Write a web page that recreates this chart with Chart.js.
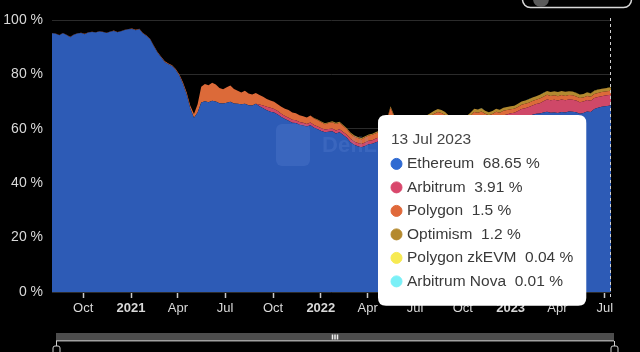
<!DOCTYPE html>
<html><head><meta charset="utf-8">
<script src="https://cdn.jsdelivr.net/npm/chart.js@4.4.0/dist/chart.umd.min.js"></script>
<style>html,body{margin:0;padding:0;background:#000;}#wrap{width:640px;height:352px;position:relative;}</style>
</head><body><div id="wrap"><canvas id="c" width="640" height="352"></canvas></div>
<script>
const dates = [
'2020-08-02','2020-08-09','2020-08-16','2020-08-23','2020-08-30','2020-09-06','2020-09-13','2020-09-20','2020-09-27','2020-10-04','2020-10-11','2020-10-18','2020-10-25','2020-11-01','2020-11-08','2020-11-15','2020-11-22','2020-11-29','2020-12-06','2020-12-13','2020-12-20','2020-12-27',
'2021-01-03','2021-01-10','2021-01-17','2021-01-24','2021-01-31','2021-02-07','2021-02-14','2021-02-21','2021-02-28','2021-03-07','2021-03-14','2021-03-21','2021-03-28','2021-04-04','2021-04-11','2021-04-18','2021-04-25','2021-05-02','2021-05-09','2021-05-16','2021-05-23','2021-05-30','2021-06-06','2021-06-13','2021-06-20','2021-06-27','2021-07-04','2021-07-11','2021-07-18','2021-07-25','2021-08-01','2021-08-08','2021-08-15','2021-08-22','2021-08-29','2021-09-05','2021-09-12','2021-09-19','2021-09-26','2021-10-03','2021-10-10','2021-10-17','2021-10-24','2021-10-31','2021-11-07','2021-11-14','2021-11-21','2021-11-28','2021-12-05','2021-12-12','2021-12-19','2021-12-26',
'2022-01-02','2022-01-09','2022-01-16','2022-01-23','2022-01-30','2022-02-06','2022-02-13','2022-02-20','2022-02-27','2022-03-06','2022-03-13','2022-03-20','2022-03-27','2022-04-03','2022-04-10','2022-04-17','2022-04-24','2022-05-01','2022-05-08','2022-05-15','2022-05-22','2022-05-29','2022-06-05','2022-06-12','2022-06-19','2022-06-26','2022-07-03','2022-07-10','2022-07-17','2022-07-24','2022-07-31','2022-08-07','2022-08-14','2022-08-21','2022-08-28','2022-09-04','2022-09-11','2022-09-18','2022-09-25','2022-10-02','2022-10-09','2022-10-16','2022-10-23','2022-10-30','2022-11-06','2022-11-13','2022-11-20','2022-11-27','2022-12-04','2022-12-11','2022-12-18','2022-12-25',
'2023-01-01','2023-01-08','2023-01-15','2023-01-22','2023-01-29','2023-02-05','2023-02-12','2023-02-19','2023-02-26','2023-03-05','2023-03-12','2023-03-19','2023-03-26','2023-04-02','2023-04-09','2023-04-16','2023-04-23','2023-04-30','2023-05-07','2023-05-14','2023-05-21','2023-05-28','2023-06-04','2023-06-11','2023-06-18','2023-06-25','2023-07-02','2023-07-09','2023-07-13'
];

const ethereum = [
95.1,94.9,94.4,95.1,94.5,93.7,94.6,95.0,95.2,94.8,95.4,95.6,95.4,95.8,95.6,95.2,95.7,96.0,95.5,95.9,96.3,96.6,
96.7,96.2,96.6,95.0,94.1, 92.8,90.3,88.0,86.2, 84.5,83.7,83.1,81.6, 79.5,76.4,72.5,67.5, 64.1,66.0,69.7,70.1,69.8, 70.3,70.0,69.4,69.3, 69.6,69.9,69.3,69.2, 69.0,69.2,68.7,68.6,69.2, 68.3,67.6,66.8,66.3, 66.0,65.3,64.3,63.6,63.0, 62.2,62.1,61.5,61.2, 60.8,61.3,60.4,59.8,
59.2,58.7,58.9,59.1,58.3, 58.7,57.7,56.7,55.1, 54.1,53.6,53.2,53.7, 54.3,54.5,55.1,55.5, 56.4,59.1,63.4,60.2,59.3, 58.9,58.5,58.7,59.1, 59.3,59.0,59.5,59.5,60.3, 61.0,61.7,61.4,60.7, 59.5,59.1,59.0,59.2, 58.9,59.3,60.5,61.9,61.6, 62.2,61.2,60.8,61.2, 62.1,61.8,62.5,62.7,
63.1,63.2,63.7,64.4,64.6, 64.8,65.2,65.5,65.6, 66.0,66.3,65.9,66.0, 65.8,66.2,66.0,66.4,66.3, 66.1,65.5,65.8,66.4, 66.2,67.3,67.7,68.1, 68.3,68.5,68.65
];

const arbitrum = [
0,0,0,0,0,0,0,0,0,0,0,0,0,0,0,0,0,0,0,0,0,0,
0,0,0,0,0, 0,0,0,0, 0,0,0,0, 0,0,0,0, 0,0,0,0,0, 0,0,0,0, 0,0,0,0, 0,0,0,0,0, 0.6,1.0,1.3,1.4, 1.3,1.2,1.2,1.1,1.1, 1.1,1.0,1.0,1.0, 1.0,1.0,1.0,1.0,
1.0,1.0,1.0,1.0,1.1, 1.1,1.1,1.1,1.2, 1.2,1.2,1.2,1.3, 1.3,1.3,1.3,1.4, 1.4,1.5,1.7,1.7,1.8, 1.9,1.9,1.9,2.0, 2.0,2.0,2.0,2.1,2.1, 2.2,2.2,2.2,2.2, 2.2,2.2,2.2,2.3, 2.3,2.3,2.3,2.4,2.4, 2.4,2.5,2.5,2.5, 2.5,2.5,2.5,2.6,
2.6,2.7,2.8,2.9,3.0, 3.2,3.4,3.6,3.8, 4.1,4.5,4.6,4.7, 4.6,4.6,4.5,4.4,4.4, 4.3,4.3,4.2,4.2, 4.1,4.0,4.0,3.9, 3.9,3.9,3.91
];

const polygon = [
0.1,0.1,0.1,0.1,0.1,0.1,0.1,0.1,0.1,0.1,0.1,0.1,0.1,0.1,0.1,0.1,0.1,0.1,0.1,0.1,0.1,0.1,
0.2,0.2,0.2,0.2,0.2, 0.2,0.2,0.2,0.3, 0.3,0.3,0.3,0.4, 0.5,0.6,0.8,1.0, 1.3,3.0,5.8,6.4,6.2, 6.6,6.3,5.6,5.2, 5.7,6.0,5.3,4.8, 4.3,4.8,4.3,4.0,4.0, 3.5,3.2,2.9,2.7, 2.6,2.5,2.6,2.7,2.8, 2.7,2.6,2.5,2.4, 2.4,2.6,2.4,2.3,
2.2,2.0,2.2,2.3,2.4, 2.4,2.2,2.0,1.9, 1.9,1.8,1.8,1.9, 1.9,2.0,2.0,2.0, 2.2,2.4,2.6,2.5,2.4, 2.4,2.3,2.3,2.3, 2.3,2.2,2.3,2.3,2.3, 2.3,2.3,2.2,2.2, 2.1,2.1,2.0,2.0, 2.0,2.0,2.0,1.9,1.9, 1.8,1.8,1.7,1.7, 1.7,1.6,1.6,1.6,
1.5,1.5,1.5,1.5,1.6, 1.6,1.6,1.6,1.7, 1.7,1.7,1.6,1.6, 1.6,1.6,1.6,1.6,1.6, 1.5,1.5,1.5,1.5, 1.5,1.5,1.5,1.5, 1.5,1.5,1.5
];

const optimism = [
0,0,0,0,0,0,0,0,0,0,0,0,0,0,0,0,0,0,0,0,0,0,
0,0,0,0,0, 0,0,0,0, 0,0,0,0, 0,0,0,0, 0,0,0,0,0, 0,0,0,0, 0,0,0,0, 0,0,0,0,0, 0,0,0,0, 0,0,0,0,0, 0,0,0,0, 0,0,0.2,0.3,
0.3,0.3,0.3,0.4,0.4, 0.4,0.4,0.4,0.4, 0.4,0.4,0.4,0.4, 0.4,0.4,0.4,0.4, 0.5,0.5,0.6,0.6,0.7, 0.8,0.8,0.9,0.9, 1.0,1.0,1.0,1.1,1.1, 1.1,1.1,1.1,1.1, 1.1,1.1,1.1,1.1, 1.2,1.2,1.2,1.2,1.2, 1.2,1.1,1.1,1.1, 1.1,1.1,1.1,1.1,
1.1,1.1,1.2,1.2,1.2, 1.3,1.3,1.3,1.4, 1.4,1.4,1.4,1.5, 1.5,1.5,1.5,1.4,1.4, 1.3,1.3,1.3,1.3, 1.2,1.2,1.2,1.2, 1.2,1.2,1.2
];

const polygonZkEVM = [
0,0,0,0,0,0,0,0,0,0,0,0,0,0,0,0,0,0,0,0,0,0,
0,0,0,0,0, 0,0,0,0, 0,0,0,0, 0,0,0,0, 0,0,0,0,0, 0,0,0,0, 0,0,0,0, 0,0,0,0,0, 0,0,0,0, 0,0,0,0,0, 0,0,0,0, 0,0,0,0,
0,0,0,0,0, 0,0,0,0, 0,0,0,0, 0,0,0,0, 0,0,0,0,0, 0,0,0,0, 0,0,0,0,0, 0,0,0,0, 0,0,0,0, 0,0,0,0,0, 0,0,0,0, 0,0,0,0,
0,0,0,0,0, 0,0,0,0, 0,0,0,0.01, 0.01,0.02,0.02,0.02,0.03, 0.03,0.03,0.03,0.03, 0.04,0.04,0.04,0.04, 0.04,0.04,0.04
];

const arbitrumNova = [
0,0,0,0,0,0,0,0,0,0,0,0,0,0,0,0,0,0,0,0,0,0,
0,0,0,0,0, 0,0,0,0, 0,0,0,0, 0,0,0,0, 0,0,0,0,0, 0,0,0,0, 0,0,0,0, 0,0,0,0,0, 0,0,0,0, 0,0,0,0,0, 0,0,0,0, 0,0,0,0,
0,0,0,0,0, 0,0,0,0, 0,0,0,0, 0,0,0,0, 0,0,0,0,0, 0,0,0,0, 0,0,0,0,0, 0.01,0.01,0.01,0.01, 0.01,0.01,0.01,0.01, 0.01,0.01,0.01,0.01,0.01, 0.01,0.01,0.01,0.01, 0.01,0.01,0.01,0.01,
0.01,0.01,0.01,0.01,0.01, 0.01,0.01,0.01,0.01, 0.01,0.01,0.01,0.01, 0.01,0.01,0.01,0.01,0.01, 0.01,0.01,0.01,0.01, 0.01,0.01,0.01,0.01, 0.01,0.01,0.01
];

const seriesNames = ['Ethereum','Arbitrum','Polygon','Optimism','Polygon zkEVM','Arbitrum Nova'];
const tickDates = ['2020-10-01','2021-01-01','2021-04-01','2021-07-01','2021-10-01','2022-01-01','2022-04-01','2022-07-01','2022-10-01','2023-01-01','2023-04-01','2023-07-01'];
const tickLabels = ['Oct','2021','Apr','Jul','Oct','2022','Apr','Jul','Oct','2023','Apr','Jul'];
const monthNames = ['Jan','Feb','Mar','Apr','May','Jun','Jul','Aug','Sep','Oct','Nov','Dec'];

const fillColors = ['#2d5bb6','#cf4868','#dc6a39','#b2892f','#f2e14c','#73ecf4'];
const dotColors  = ['#2f6ad2','#d9476c','#e0693a','#b4892d','#f7ea52','#7af0f7'];
const FONT = '"Liberation Sans", Arial, Helvetica, sans-serif';

const toDay = s => Date.parse(s + 'T00:00:00Z') / 86400000;
const xs = dates.map(toDay);
const seriesValues = [ethereum, arbitrum, polygon, optimism, polygonZkEVM, arbitrumNova];

const datasets = seriesNames.map((name, i) => ({
  label: name,
  data: seriesValues[i].map((v, k) => ({x: xs[k], y: v})),
  backgroundColor: fillColors[i],
  borderColor: 'transparent',
  borderWidth: 0,
  pointRadius: 0,
  pointHoverRadius: 0,
  fill: i === 0 ? 'origin' : '-1',
  tension: 0
}));

Chart.Tooltip.positioners.fixedBox = function () {
  const ca = this.chart.chartArea;
  return {x: ca.left + 334, y: ca.top + 95};
};

const decor = {
  id: 'decor',
  afterDatasetsDraw(chart) {
    const {ctx, chartArea: ca, scales} = chart;
    ctx.save();
    // faint watermark
    ctx.fillStyle = 'rgba(130,160,235,0.16)';
    ctx.beginPath();
    ctx.roundRect(ca.left + 224, ca.top + 104, 34, 42, 6);
    ctx.fill();
    ctx.font = 'bold 22px ' + FONT;
    ctx.textBaseline = 'middle';
    ctx.fillText('DefiLlama', ca.left + 270, ca.top + 126);
    // dashed crosshair at last point
    const px = Math.round(scales.x.getPixelForValue(xs[xs.length - 1])) - 0.5;
    ctx.strokeStyle = '#d0d0d0';
    ctx.lineWidth = 1;
    ctx.setLineDash([3, 3]);
    ctx.beginPath();
    ctx.moveTo(px, ca.top - 2);
    ctx.lineTo(px, ca.bottom + 8);
    ctx.stroke();
    ctx.restore();
  },
  afterDraw(chart) {
    const {ctx, chartArea: ca} = chart;
    ctx.save();
    // brush / range slider
    const bx0 = ca.left + 4, bx1 = ca.right + 3;
    ctx.fillStyle = '#4d4d4d';
    ctx.fillRect(bx0, 333, bx1 - bx0, 8);
    ctx.fillStyle = '#a0a0a0';
    ctx.fillRect(bx0, 340, bx1 - bx0, 1.5);
    const cx = (bx0 + bx1) / 2;
    ctx.fillStyle = '#eeeeee';
    for (let k = -1; k <= 1; k++) ctx.fillRect(cx + k * 2.5 - 0.75, 334.5, 1.5, 5);
    ctx.strokeStyle = '#d0d0d0';
    ctx.lineWidth = 1;
    [bx0, bx1].forEach(hx => {
      ctx.beginPath();
      ctx.moveTo(hx + 0.5, 341);
      ctx.lineTo(hx + 0.5, 346);
      ctx.stroke();
      ctx.beginPath();
      ctx.roundRect(hx - 3, 346, 7, 10, 2);
      ctx.stroke();
    });
    // top-right toggle (partially visible)
    ctx.strokeStyle = '#d8d8d8';
    ctx.lineWidth = 1.5;
    ctx.beginPath();
    ctx.roundRect(522.5, -20, 109, 27.5, 8);
    ctx.stroke();
    ctx.fillStyle = '#5a5a5a';
    ctx.beginPath();
    ctx.arc(541, -1, 8, 0, Math.PI * 2);
    ctx.fill();
    ctx.restore();
  }
};

const chart = new Chart(document.getElementById('c').getContext('2d'), {
  type: 'line',
  data: {datasets},
  options: {
    responsive: false,
    animation: false,
    events: [],
    layout: {padding: {top: 20, right: 29, left: 0, bottom: 0}},
    interaction: {mode: 'index', intersect: false},
    scales: {
      x: {
        type: 'linear',
        min: xs[0],
        max: xs[xs.length - 1],
        afterBuildTicks: axis => { axis.ticks = tickDates.map(d => ({value: toDay(d)})); },
        afterFit: scale => { scale.height = 60; },
        grid: {drawOnChartArea: false, drawTicks: true, tickLength: 6, tickColor: '#c8c8c8', tickWidth: 1.5},
        border: {display: false},
        ticks: {
          autoSkip: false, maxRotation: 0, padding: 3, color: '#d9d9d9',
          font: c => ({family: FONT, size: 13, weight: /^\d{4}$/.test(tickLabels[c.index] || '') ? 'bold' : 'normal'}),
          callback: (v, i) => tickLabels[i]
        }
      },
      y: {
        stacked: true,
        min: 0,
        max: 100,
        afterFit: scale => { scale.width = 52; },
        ticks: {stepSize: 20, padding: 9, color: '#d9d9d9', font: {family: FONT, size: 14}, callback: v => v + ' %'},
        grid: {color: '#2b2b2b', drawTicks: false},
        border: {display: false}
      }
    },
    plugins: {
      legend: {display: false},
      tooltip: {
        enabled: true,
        position: 'fixedBox',
        xAlign: 'left',
        yAlign: 'top',
        caretSize: 0,
        caretPadding: 0,
        cornerRadius: 8,
        backgroundColor: '#ffffff',
        borderWidth: 0,
        titleColor: '#454545',
        bodyColor: '#3a3a3a',
        titleFont: {family: FONT, size: 15.5, weight: 'normal'},
        bodyFont: {family: FONT, size: 15.5},
        titleMarginBottom: 6,
        bodySpacing: 4.9,
        padding: {top: 15, bottom: 15, left: 13, right: 13},
        displayColors: true,
        usePointStyle: true,
        boxWidth: 11,
        boxHeight: 11,
        boxPadding: 3,
        callbacks: {
          title: items => {
            const d = new Date(dates[items[0].dataIndex] + 'T00:00:00Z');
            return d.getUTCDate() + ' ' + monthNames[d.getUTCMonth()] + ' ' + d.getUTCFullYear();
          },
          label: c => c.dataset.label + '  ' + c.raw.y + ' %',
          labelColor: c => ({borderColor: dotColors[c.datasetIndex], backgroundColor: dotColors[c.datasetIndex], borderWidth: 0}),
          labelPointStyle: () => ({pointStyle: 'circle', rotation: 0})
        }
      }
    }
  },
  plugins: [decor]
});

const last = dates.length - 1;
chart.tooltip.setActiveElements(seriesNames.map((n, i) => ({datasetIndex: i, index: last})), {x: 0, y: 0});
chart.update();
</script>
</body></html>
